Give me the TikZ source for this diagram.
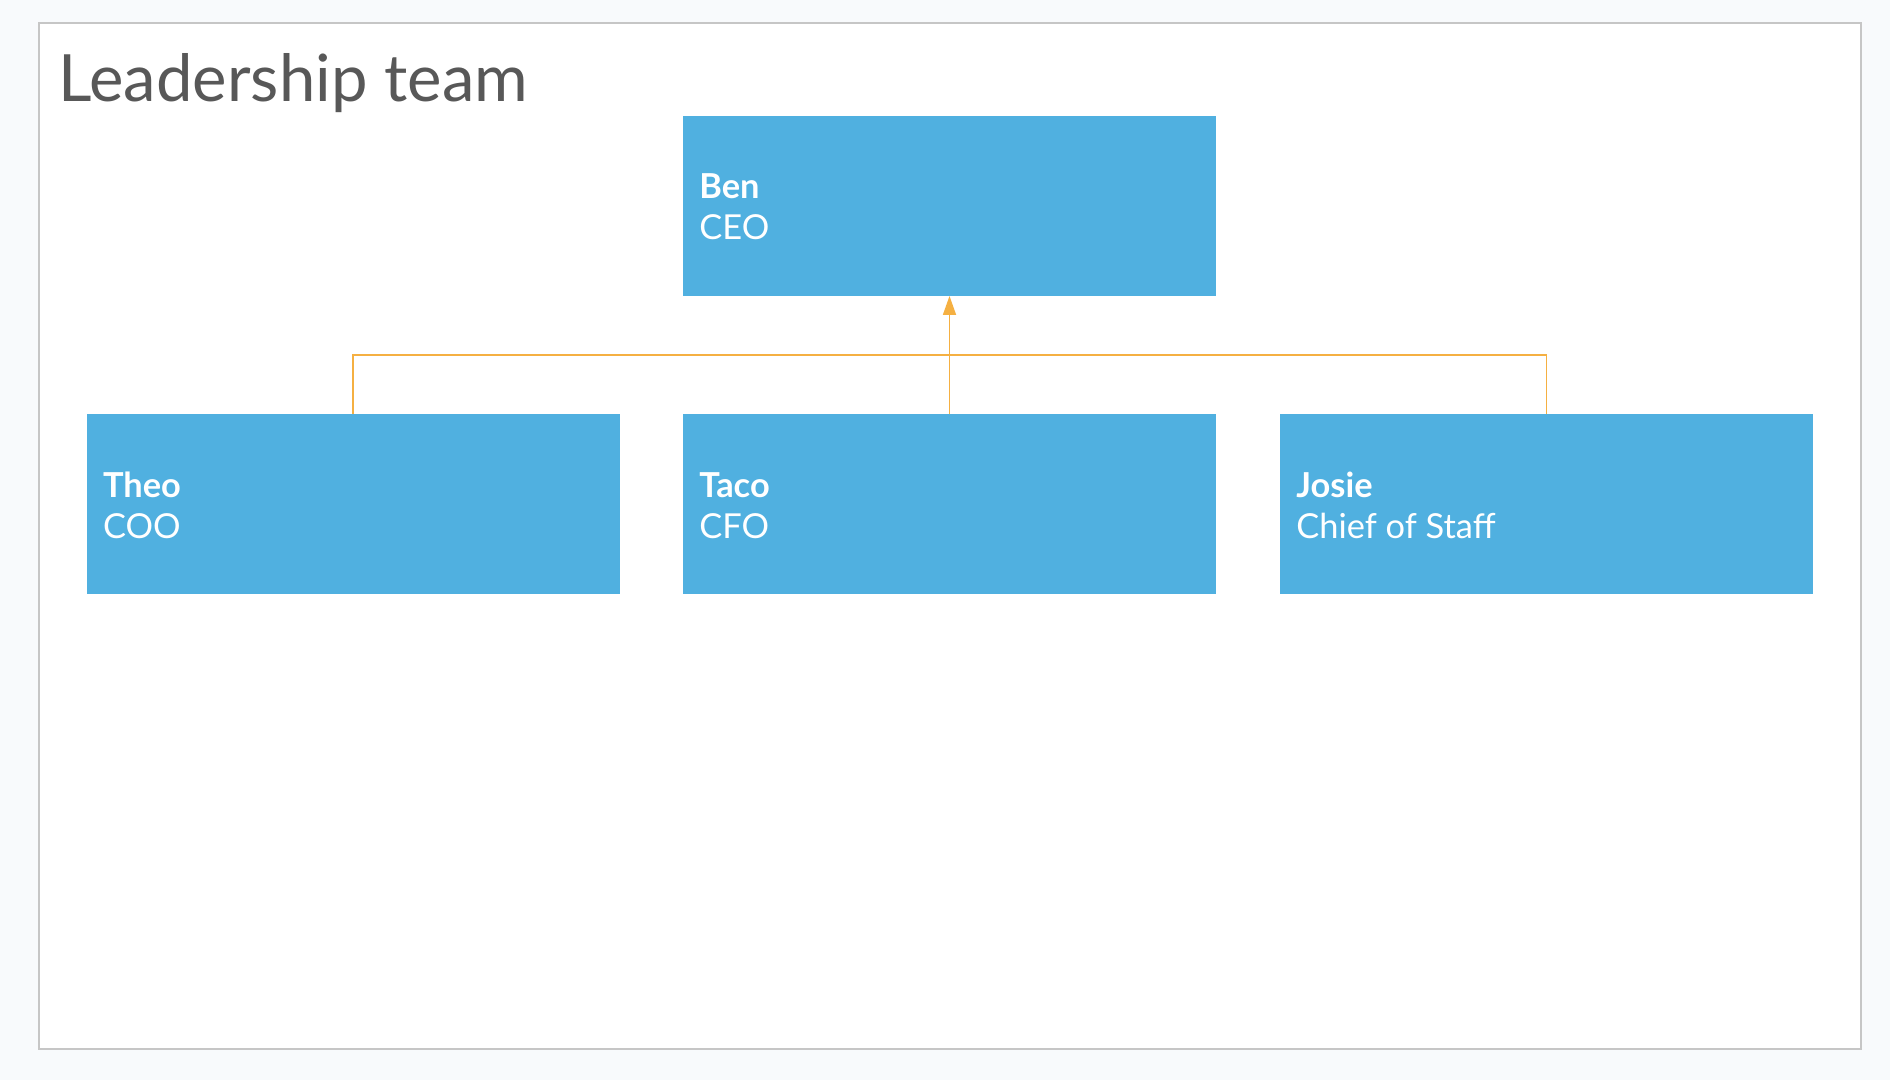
\documentclass[tikz,border=0pt]{standalone}
\usepackage{fontspec}
\setmainfont{Lato}
\usetikzlibrary{arrows.meta}
\definecolor{pagebg}{HTML}{F8FAFC}
\definecolor{framecol}{HTML}{C6C6C6}
\definecolor{titlecol}{HTML}{585858}
\definecolor{boxcol}{HTML}{50B0E0}
\definecolor{conncol}{HTML}{F5B042}
\tikzset{
  orgbox/.style={fill=boxcol, draw=none, minimum width=266.5pt, minimum height=90pt,
    inner sep=0pt, text=white, anchor=north west, outer sep=0pt},
  boxtext/.style={anchor=west, text=white, align=left, inner sep=0pt,
    font=\fontsize{17.2}{20.5}\selectfont},
  conn/.style={draw=conncol, line width=0.9pt},
}
\begin{document}
\begin{tikzpicture}[x=0.5pt,y=-0.5pt]
\fill[pagebg] (0,0) rectangle (1890,1080);
\useasboundingbox (0,0) rectangle (1890,1080);
\draw[framecol, line width=1pt, fill=white] (38.6,22.9) rectangle (1861,1048.5);
\node[anchor=base west, inner sep=0pt, text=titlecol, font=\fontsize{32.6}{36}\selectfont] (title) at (58,102) {Leadership team};
\node[orgbox] (ben) at (683,116) {};
\node[orgbox] (theo) at (86.7,414.3) {};
\node[orgbox] (taco) at (683,414.3) {};
\node[orgbox] (josie) at (1280,414.3) {};
\node[boxtext] (bent) at ([xshift=8pt,yshift=-0.5pt]ben.west) {\textbf{Ben}\\CEO};
\node[boxtext] (theot) at ([xshift=8pt,yshift=-0.5pt]theo.west) {\textbf{Theo}\\COO};
\node[boxtext] (tacot) at ([xshift=8pt,yshift=-0.5pt]taco.west) {\textbf{Taco}\\CFO};
\node[boxtext] (josiet) at ([xshift=8pt,yshift=-0.5pt]josie.west) {\textbf{Josie}\\Chief of Staff};
\coordinate (junc) at (949.5,355);
\draw[conn] (theo.north) |- (junc) -| (josie.north);
\draw[conn, -{Triangle[length=9.5pt, width=6.5pt]}] (taco.north) -- (ben.south);
\end{tikzpicture}
\end{document}
